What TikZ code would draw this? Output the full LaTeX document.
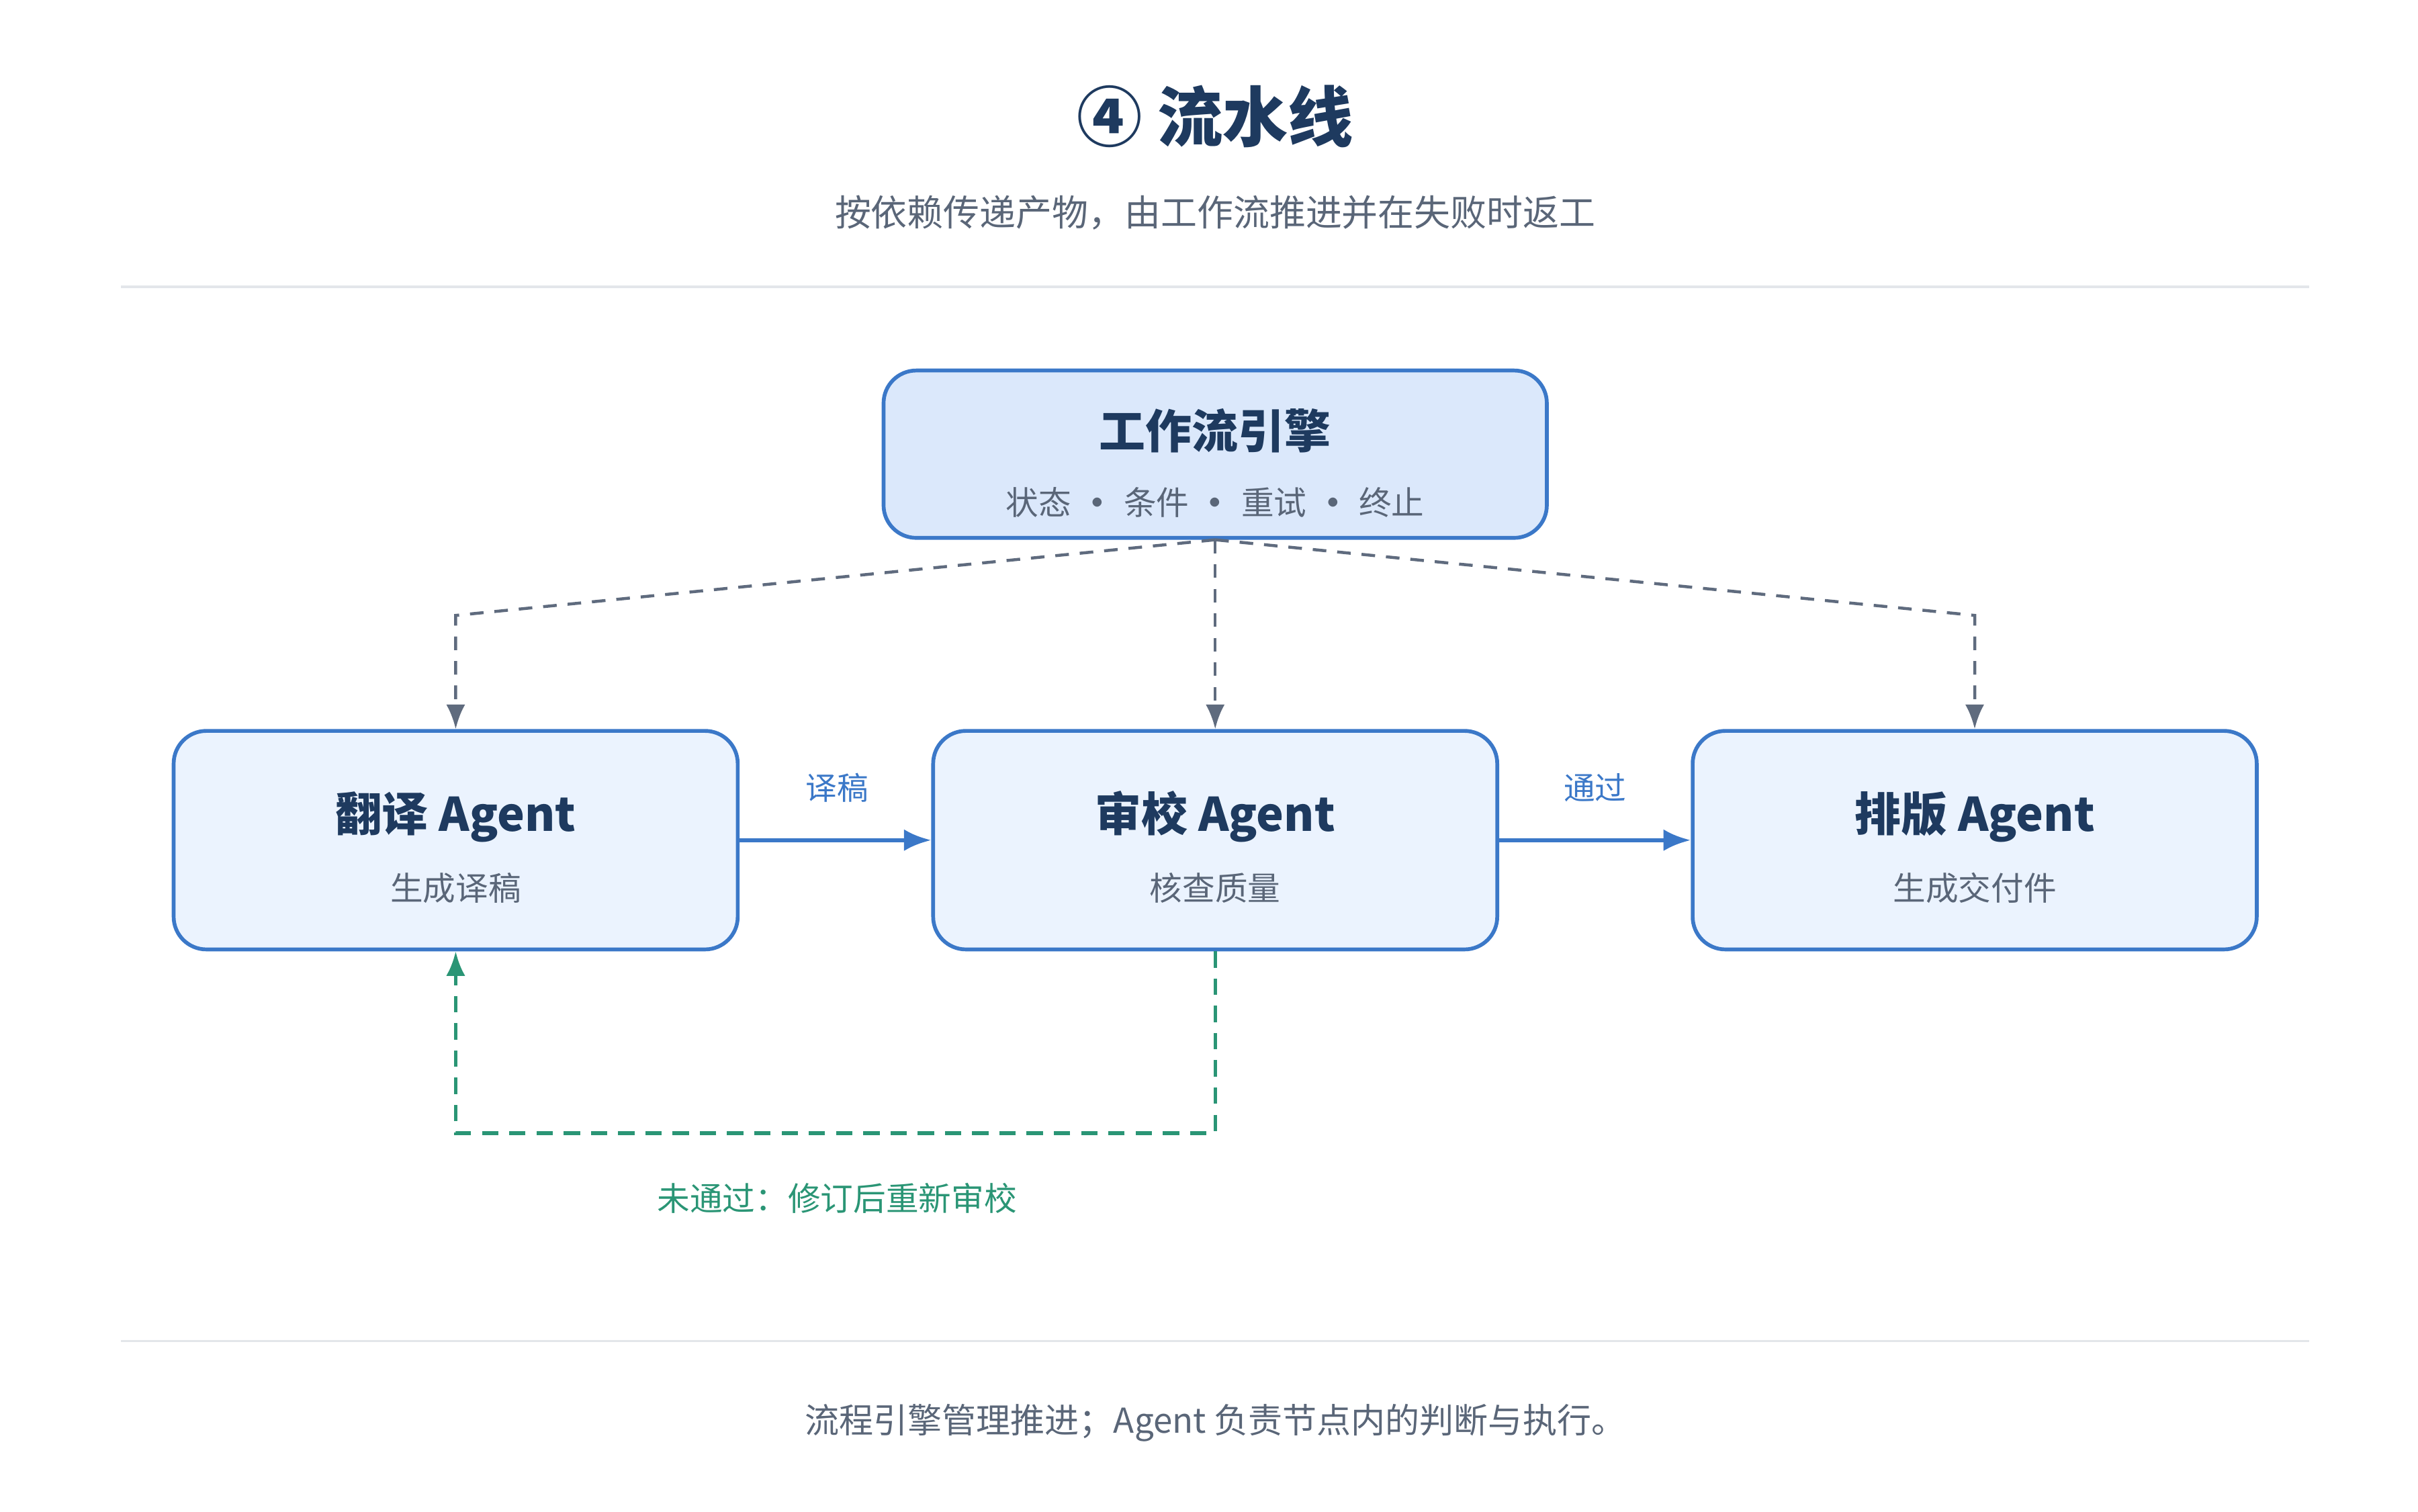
\documentclass[tikz,border=0pt]{standalone}
\usepackage{fontspec}
\setmainfont{Noto Sans CJK SC}
\usepackage{tikz}
\usetikzlibrary{arrows,arrows.meta}
\definecolor{navy}{HTML}{1E3A5F}
\definecolor{greytext}{HTML}{5A6678}
\definecolor{boxblue}{HTML}{3B78C8}
\definecolor{enginefill}{HTML}{DBE8FB}
\definecolor{agentfill}{HTML}{EBF3FE}
\definecolor{linkgrey}{HTML}{5F6B7E}
\definecolor{retgreen}{HTML}{2A9575}
\definecolor{rulegrey}{HTML}{E3E6EA}
\tikzstyle{eng_box} = [rectangle, rounded corners=12pt, draw=boxblue, fill=enginefill, line width=1.4pt, minimum width=8.56cm, minimum height=2.16cm]
\tikzstyle{agt_box} = [rectangle, rounded corners=12pt, draw=boxblue, fill=agentfill, line width=1.4pt, minimum width=7.28cm, minimum height=2.82cm]
\tikzstyle{box_title} = [font=\fontsize{17}{20}\selectfont\bfseries, text=navy]
\tikzstyle{box_sub} = [font=\fontsize{12}{14}\selectfont, text=greytext]
\tikzstyle{ctl} = [-{Latex[length=9pt,width=7pt]}, draw=linkgrey, line width=1.1pt, dash pattern=on 5pt off 4pt]
\tikzstyle{flow} = [-{Latex[length=10pt,width=8pt]}, draw=boxblue, line width=1.6pt]
\tikzstyle{back} = [-{Latex[length=9pt,width=7pt]}, draw=retgreen, line width=1.3pt, dash pattern=on 6pt off 4pt]

\begin{document}
\begin{tikzpicture}[x=0.02cm, y=-0.02cm]
\useasboundingbox (0,0) rectangle (1560,975);
% heading
\node [font=\fontsize{24}{28}\selectfont\bfseries, text=navy] (title) at (784,75) {④ 流水线};
\node [font=\fontsize{13.3}{16}\selectfont, text=greytext] (subtitle) at (784,137) {按依赖传递产物，由工作流推进并在失败时返工};
\draw [rulegrey, line width=0.8pt] (78,185) -- (1490,185);
\draw [rulegrey, line width=0.8pt] (78,865) -- (1490,865);
% engine
\node [eng_box] (engine) at (784,293) {};
\node [box_title] at (784,278) {工作流引擎};
\node [box_sub] at (784,324) {状态\hspace{0.3em}\textbf{·}\hspace{0.3em}条件\hspace{0.3em}\textbf{·}\hspace{0.3em}重试\hspace{0.3em}\textbf{·}\hspace{0.3em}终止};
% agents
\node [agt_box] (trans) at (294,542) {};
\node [box_title] at (294,527) {翻译 Agent};
\node [box_sub] at (294,573) {生成译稿};
\node [agt_box] (review) at (784,542) {};
\node [box_title] at (784,527) {审校 Agent};
\node [box_sub] at (784,573) {核查质量};
\node [agt_box] (layout) at (1274,542) {};
\node [box_title] at (1274,527) {排版 Agent};
\node [box_sub] at (1274,573) {生成交付件};
% control links
\coordinate (bendl) at (294,397);
\coordinate (bendr) at (1274,397);
\draw [ctl] (engine.south) -- (bendl) -- (trans.north);
\draw [ctl] (engine.south) -- (review.north);
\draw [ctl] (engine.south) -- (bendr) -- (layout.north);
% data flow
\draw [flow] (trans.east) -- (review.west);
\node [font=\fontsize{11.5}{13}\selectfont, text=boxblue] (lab1) at (540,508) {译稿};
\draw [flow] (review.east) -- (layout.west);
\node [font=\fontsize{11.5}{13}\selectfont, text=boxblue] (lab2) at (1029,508) {通过};
% rework
\coordinate (retr) at (784,731);
\coordinate (retl) at (294,731);
\draw [back] (review.south) -- (retr) -- (retl) -- (trans.south);
\node [font=\fontsize{12}{14}\selectfont, text=retgreen] (lab3) at (540,773) {未通过：修订后重新审校};
% footer
\node [font=\fontsize{12.6}{15}\selectfont, text=greytext] (foot) at (784,918) {流程引擎管理推进；Agent 负责节点内的判断与执行。};
\end{tikzpicture}
\end{document}
